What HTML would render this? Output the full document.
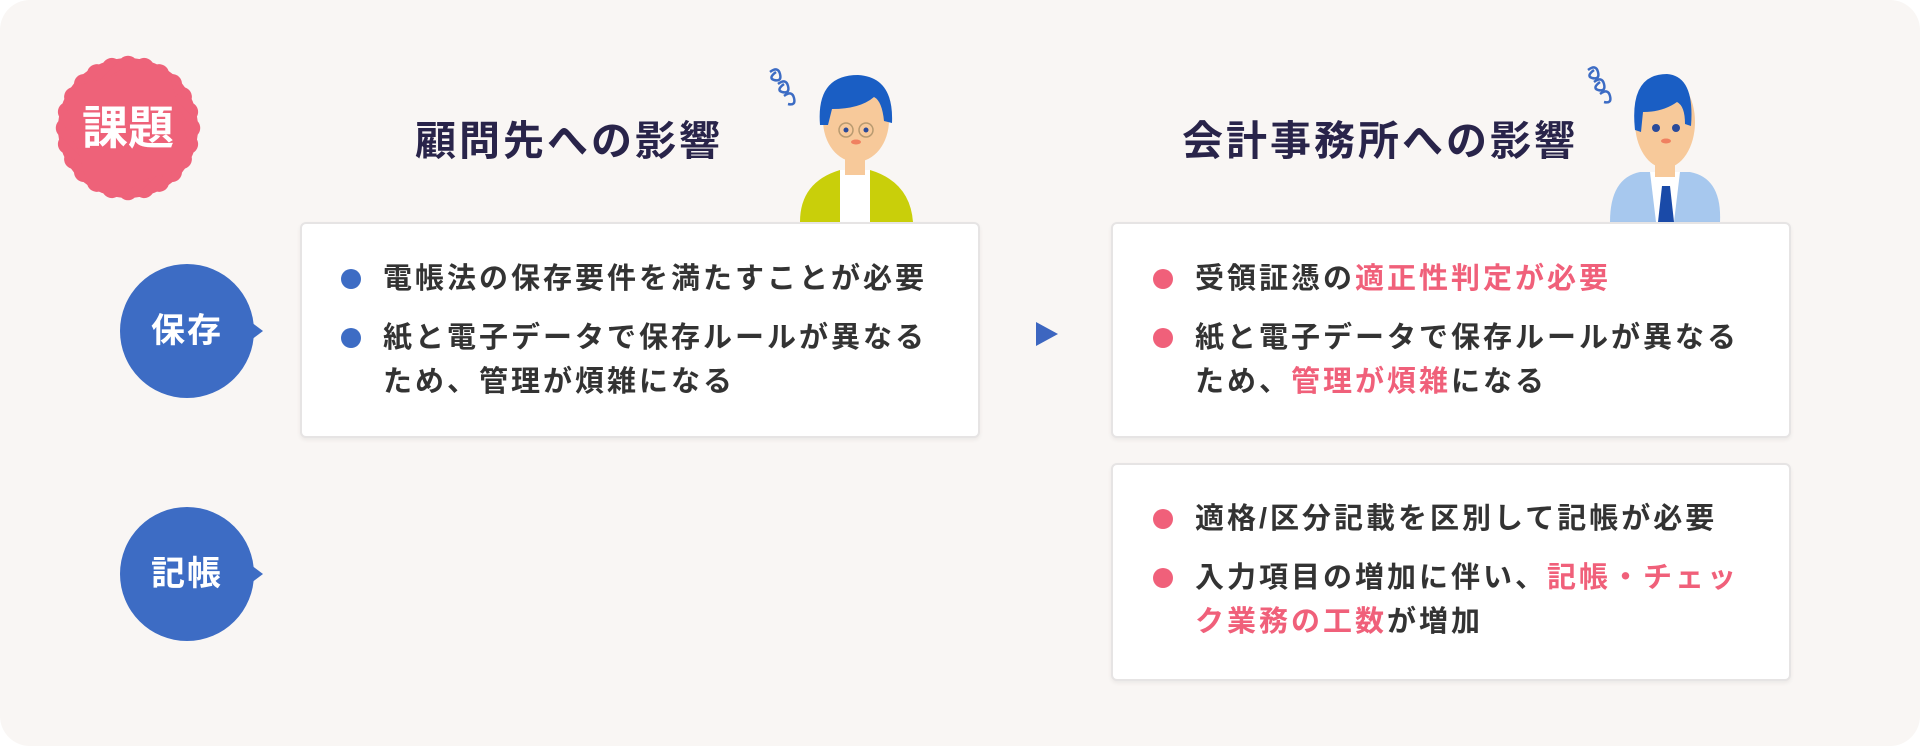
<!DOCTYPE html>
<html><head><meta charset="utf-8">
<style>
*{margin:0;padding:0;box-sizing:border-box}
html,body{width:1920px;height:746px;background:#fff;overflow:hidden}
body{font-family:"Liberation Sans","Noto Sans CJK JP",sans-serif;position:relative}
#bg{position:absolute;left:0;top:0;width:1920px;height:746px;background:#f9f6f4;border-radius:30px}
.a{position:absolute;white-space:nowrap}
.title{font-size:41px;font-weight:700;color:#29244a;letter-spacing:3px;line-height:40px}
.box{position:absolute;background:#fff;border:2px solid #e6e4e4;border-radius:6px;box-shadow:0 2px 4px rgba(0,0,0,.06)}
.t{position:absolute;font-size:29px;font-weight:700;color:#333;letter-spacing:3px;line-height:30px;white-space:nowrap}
.dot{position:absolute;width:20px;height:20px;border-radius:50%}
.b{background:#3d6cc4}.p{background:#f0607a}
.pk{color:#f0607a}
.circ{position:absolute;width:134px;height:134px;border-radius:50%;background:#3d6cc4;color:#fff;font-size:34px;font-weight:700;text-align:center;line-height:134px;letter-spacing:2px}
.circ:after{content:"";position:absolute;right:-9px;top:58px;border-left:12px solid #3d6cc4;border-top:9px solid transparent;border-bottom:9px solid transparent}
</style></head><body>
<div id="bg"></div>

<svg class="a" style="left:48px;top:48px" width="160" height="160" viewBox="-80 -80 160 160">
<g fill="#ee6279">
<circle r="70"/>
<rect x="-54" y="-54" width="108" height="108" rx="10" transform="rotate(0)"/>
<rect x="-54" y="-54" width="108" height="108" rx="10" transform="rotate(15)"/>
<rect x="-54" y="-54" width="108" height="108" rx="10" transform="rotate(30)"/>
<rect x="-54" y="-54" width="108" height="108" rx="10" transform="rotate(45)"/>
<rect x="-54" y="-54" width="108" height="108" rx="10" transform="rotate(60)"/>
<rect x="-54" y="-54" width="108" height="108" rx="10" transform="rotate(75)"/>
</g>
<text x="0" y="16" text-anchor="middle" font-size="46" font-weight="700" fill="#fff" font-family="Liberation Sans,Noto Sans CJK JP,sans-serif">課題</text>
</svg>

<div class="a title" style="left:415px;top:121px">顧問先への影響</div>
<div class="a title" style="left:1182px;top:121px">会計事務所への影響</div>

<svg class="a" style="left:760px;top:60px" width="170" height="166" viewBox="760 60 170 166">
<path d="M770 72 q8 -6 10 2 q2 8 -6 6 q-6 -2 2 -8 M778 84 q8 -6 10 2 q2 8 -6 6 q-6 -2 2 -8 M784 96 q8 -6 10 2 q2 8 -6 6" fill="none" stroke="#3d6cc4" stroke-width="2.5"/>
<path d="M800 222 q0 -40 40 -52 l30 0 q40 12 43 52 z" fill="#c9cf0a"/>
<path d="M840 170 l30 0 l0 52 l-30 0 z" fill="#fff"/>
<rect x="845" y="145" width="20" height="30" fill="#f7c99a"/>
<ellipse cx="856" cy="120" rx="33" ry="42" fill="#f7c99a"/>
<path d="M820 125 q-4 -50 38 -50 q36 2 34 48 l-8 -2 q-2 -20 -10 -24 q-14 12 -42 12 l-4 16 z" fill="#1a5ec4"/>
<circle cx="846" cy="130" r="7" fill="none" stroke="#b89a70" stroke-width="1.5"/>
<circle cx="866" cy="130" r="7" fill="none" stroke="#b89a70" stroke-width="1.5"/>
<circle cx="846" cy="130" r="2.5" fill="#2a4a9a"/><circle cx="866" cy="130" r="2.5" fill="#2a4a9a"/>
<ellipse cx="856" cy="142" rx="5" ry="2.5" fill="#f08060"/>
</svg>

<svg class="a" style="left:1580px;top:60px" width="150" height="166" viewBox="1580 60 150 166">
<path d="M1588 70 q8 -6 10 2 q2 8 -6 6 q-6 -2 2 -8 M1594 82 q8 -6 10 2 q2 8 -6 6 q-6 -2 2 -8 M1600 94 q8 -6 10 2 q2 8 -6 6" fill="none" stroke="#3d6cc4" stroke-width="2.5"/>
<path d="M1610 222 q0 -44 30 -50 l50 0 q32 6 30 50 z" fill="#a7c8ee"/>
<path d="M1650 172 l30 0 l-6 50 l-18 0 z" fill="#fff"/>
<path d="M1662 186 l8 0 l4 36 l-16 0 z" fill="#1a4aa8"/>
<rect x="1655" y="145" width="20" height="32" fill="#f7c99a"/>
<ellipse cx="1665" cy="122" rx="30" ry="46" fill="#f7c99a"/>
<path d="M1635 130 q-6 -56 32 -56 q28 2 24 52 l-6 -2 q0 -18 -8 -22 q-14 10 -34 10 l-2 20 z" fill="#1a5ec4"/>
<circle cx="1656" cy="128" r="4" fill="#2a4a9a"/><circle cx="1676" cy="128" r="4" fill="#2a4a9a"/>
<ellipse cx="1666" cy="141" rx="5" ry="2.5" fill="#f08060"/>
</svg>

<div class="circ" style="left:120px;top:264px">保存</div>
<div class="circ" style="left:120px;top:507px">記帳</div>

<svg class="a" style="left:1035px;top:322px" width="24" height="24"><path d="M1 0 L23 12 L1 24 z" fill="#3d66c0"/></svg>

<div class="box" style="left:300px;top:222px;width:680px;height:216px"></div>
<div class="dot b" style="left:341px;top:269px"></div>
<div class="t" style="left:383px;top:264px">電帳法の保存要件を満たすことが必要</div>
<div class="dot b" style="left:341px;top:328px"></div>
<div class="t" style="left:383px;top:323px">紙と電子データで保存ルールが異なる</div>
<div class="t" style="left:383px;top:367px">ため、管理が煩雑になる</div>

<div class="box" style="left:1111px;top:222px;width:680px;height:216px"></div>
<div class="dot p" style="left:1153px;top:269px"></div>
<div class="t" style="left:1195px;top:264px">受領証憑の<span class="pk">適正性判定が必要</span></div>
<div class="dot p" style="left:1153px;top:328px"></div>
<div class="t" style="left:1195px;top:323px">紙と電子データで保存ルールが異なる</div>
<div class="t" style="left:1195px;top:367px">ため、<span class="pk">管理が煩雑</span>になる</div>

<div class="box" style="left:1111px;top:463px;width:680px;height:218px"></div>
<div class="dot p" style="left:1153px;top:509px"></div>
<div class="t" style="left:1195px;top:504px">適格/区分記載を区別して記帳が必要</div>
<div class="dot p" style="left:1153px;top:568px"></div>
<div class="t" style="left:1195px;top:563px">入力項目の増加に伴い、<span class="pk">記帳・チェッ</span></div>
<div class="t" style="left:1195px;top:607px"><span class="pk">ク業務の工数</span>が増加</div>
</body></html>
